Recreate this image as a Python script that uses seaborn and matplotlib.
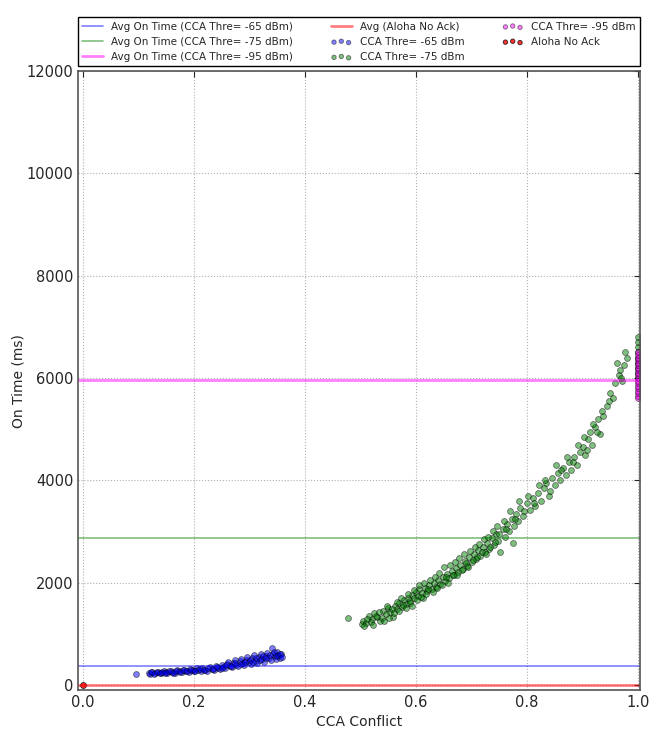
"""CCA conflict vs on time"""

import matplotlib
matplotlib.use('Agg')
import matplotlib.pyplot as plt
import numpy as np
import pandas as pd
import seaborn as sns

# average on time per setting (ms)
avg_labels = ['Avg On Time (CCA Thre= -65 dBm)', 'Avg On Time (CCA Thre= -75 dBm)',
              'Avg On Time (CCA Thre= -95 dBm)', 'Avg (Aloha No Ack)']
avg_values = [360, 2880, 5960, 0]
avg_colors = ['#0000ff', '#008000', '#ff00ff', '#ff0000']

# CCA Thre = -65 dBm
x65 = [0.095, 0.118, 0.120, 0.125, 0.130, 0.135, 0.140, 0.145, 0.150, 0.152,
       0.158, 0.160, 0.165, 0.170, 0.172, 0.178, 0.180, 0.185, 0.190, 0.192,
       0.198, 0.200, 0.205, 0.208, 0.212, 0.215, 0.220, 0.224, 0.228, 0.232,
       0.236, 0.240, 0.243, 0.246, 0.250, 0.253, 0.256, 0.260, 0.262, 0.265,
       0.268, 0.270, 0.273, 0.276, 0.280, 0.282, 0.285, 0.288, 0.290, 0.293,
       0.296, 0.299, 0.302, 0.305, 0.308, 0.311, 0.314, 0.317, 0.320, 0.323,
       0.326, 0.329, 0.332, 0.335, 0.338, 0.340, 0.342, 0.345, 0.348, 0.350,
       0.352, 0.355, 0.357,
       0.122, 0.128, 0.133, 0.138, 0.143, 0.148, 0.155, 0.162, 0.168, 0.175,
       0.182, 0.188, 0.195, 0.202, 0.210, 0.218, 0.226, 0.234, 0.242, 0.250,
       0.258, 0.266, 0.274, 0.284, 0.292, 0.300, 0.306, 0.312, 0.318, 0.324,
       0.330, 0.336, 0.344, 0.350, 0.354, 0.358]
y65 = [220, 240, 210, 250, 230, 260, 240, 270, 250, 225,
       280, 255, 240, 290, 265, 250, 300, 275, 255, 310,
       285, 265, 320, 290, 270, 335, 300, 280, 350, 315,
       290, 370, 330, 305, 390, 350, 320, 410, 450, 370,
       340, 430, 480, 390, 360, 460, 510, 420, 380, 490,
       540, 440, 400, 520, 580, 470, 430, 550, 600, 500,
       450, 570, 620, 520, 480, 720, 600, 560, 500, 640,
       580, 530, 610,
       260, 215, 245, 225, 255, 235, 265, 235, 275, 245,
       285, 265, 300, 280, 310, 290, 330, 305, 350, 330,
       380, 360, 420, 400, 450, 480, 440, 520, 490, 560,
       530, 590, 640, 560, 600, 550]

# CCA Thre = -75 dBm
x75 = [0.478, 0.503, 0.505, 0.510, 0.515, 0.520, 0.525, 0.530, 0.535, 0.540,
       0.545, 0.550, 0.553, 0.558, 0.562, 0.566, 0.570, 0.574, 0.578, 0.582,
       0.586, 0.590, 0.593, 0.596, 0.600, 0.603, 0.606, 0.610, 0.613, 0.616,
       0.620, 0.624, 0.628, 0.632, 0.636, 0.640, 0.644, 0.648, 0.652, 0.656,
       0.660, 0.664, 0.668, 0.672, 0.676, 0.680, 0.684, 0.688, 0.692, 0.696,
       0.700, 0.704, 0.708, 0.712, 0.716, 0.720, 0.724, 0.728, 0.732, 0.736,
       0.740, 0.744, 0.748, 0.752, 0.756, 0.760, 0.764, 0.768, 0.772, 0.775,
       0.776, 0.780, 0.784, 0.788, 0.792, 0.800, 0.805, 0.810, 0.815, 0.820,
       0.825, 0.830, 0.835, 0.840, 0.845, 0.850, 0.855, 0.860, 0.865, 0.870,
       0.875, 0.880, 0.885, 0.890, 0.895, 0.900, 0.905, 0.910, 0.913, 0.917,
       0.922, 0.928, 0.932, 0.937, 0.944, 0.950, 0.955, 0.962, 0.965, 0.968,
       0.972, 0.977, 0.980, 1.000, 1.000, 1.000, 1.000, 1.000, 1.000, 1.000,
       1.000, 1.000,
       0.507, 0.512, 0.518, 0.523, 0.528, 0.533, 0.538, 0.543, 0.548, 0.552,
       0.557, 0.561, 0.565, 0.569, 0.573, 0.577, 0.581, 0.585, 0.589, 0.592,
       0.597, 0.601, 0.605, 0.609, 0.614, 0.618, 0.622, 0.626, 0.630, 0.634,
       0.638, 0.642, 0.646, 0.650, 0.654, 0.658, 0.662, 0.666, 0.670, 0.674,
       0.678, 0.682, 0.686, 0.690, 0.694, 0.698, 0.702, 0.706, 0.710, 0.714,
       0.718, 0.722, 0.726, 0.730, 0.734, 0.738, 0.742, 0.746, 0.750, 0.758,
       0.762, 0.770, 0.778, 0.786, 0.794, 0.802, 0.812, 0.822, 0.832, 0.842,
       0.852, 0.862, 0.872, 0.882, 0.892, 0.902, 0.908, 0.918, 0.926, 0.935,
       0.948, 0.958, 0.970, 0.975]
y75 = [1310, 1190, 1250, 1200, 1350, 1290, 1400, 1330, 1250, 1450,
       1380, 1500, 1420, 1330, 1550, 1480, 1600, 1520, 1650, 1580,
       1700, 1640, 1760, 1690, 1820, 1740, 1880, 1790, 1700, 1900,
       1840, 1960, 1880, 2000, 1920, 2060, 1980, 2100, 2030, 2160,
       2080, 2220, 2140, 2280, 2200, 2350, 2260, 2420, 2320, 2500,
       2400, 2560, 2460, 2640, 2520, 2700, 2600, 2780, 2660, 2880,
       2740, 2950, 2820, 2600, 3050, 2900, 3150, 3000, 3250, 2780,
       3100, 3350, 3200, 3450, 3300, 3550, 3420, 3650, 3500, 3750,
       3600, 3850, 3950, 3700, 4050, 3900, 4150, 4000, 4250, 4100,
       4350, 4200, 4450, 4300, 4550, 4650, 4500, 4800, 4950, 4700,
       5050, 5200, 4900, 5250, 5450, 5700, 5600, 6300, 6050, 6150,
       5950, 6500, 6400, 6000, 6100, 6200, 6300, 6400, 6500, 6600,
       6700, 6800,
       1150, 1280, 1220, 1180, 1350, 1420, 1300, 1250, 1550, 1300,
       1480, 1400, 1620, 1450, 1700, 1560, 1500, 1780, 1600, 1550,
       1850, 1650, 1950, 1720, 2000, 1780, 1870, 2050, 1820, 2100,
       1900, 2180, 1950, 2300, 2100, 2000, 2350, 2150, 2400, 2150,
       2480, 2250, 2550, 2380, 2300, 2620, 2450, 2700, 2500, 2750,
       2600, 2850, 2550, 2900, 2700, 3000, 2800, 3100, 2950, 3200,
       3050, 3400, 3250, 3600, 3400, 3700, 3550, 3900, 4000, 3800,
       4300, 4200, 4450, 4350, 4700, 4850, 4600, 5100, 4950, 5350,
       5550, 5900, 6000, 6250]

# CCA Thre = -95 dBm
x95 = [1.0] * 19
y95 = [5600, 5650, 5700, 5750, 5800, 5850, 5900, 5950, 6000, 6050,
       6100, 6150, 6200, 6250, 6300, 6350, 6400, 6450, 6500]

# Aloha No Ack
x_aloha = [0.0]
y_aloha = [0]

sns.set_style('whitegrid', {'grid.linestyle': ':', 'grid.color': '#b0b0b0',
                            'axes.edgecolor': '#555555'})
plt.rcParams['font.family'] = ['DejaVu Sans']

fig = plt.figure(figsize=(6.56, 7.34), dpi=100)
ax = fig.add_axes([0.119, 0.060, 0.857, 0.843])

widths = [1.2, 1.2, 2.0, 2.0]
for label, val, col, lw in zip(avg_labels, avg_values, avg_colors, widths):
    ax.axhline(val, color=col, alpha=0.5, lw=lw, label=label)

scatter_sets = [(x65, y65, 'blue', 'CCA Thre= -65 dBm', 0.5),
                (x75, y75, 'green', 'CCA Thre= -75 dBm', 0.5),
                (x95, y95, 'magenta', 'CCA Thre= -95 dBm', 0.5),
                (x_aloha, y_aloha, 'red', 'Aloha No Ack', 0.8)]
for xs, ys, col, label, a in scatter_sets:
    df = pd.DataFrame({'x': xs, 'y': ys})
    sns.scatterplot(data=df, x='x', y='y', ax=ax, color=col, alpha=a,
                    edgecolor='black', linewidth=0.6, s=18, label=label)

ax.set_xlim(-0.009, 1.004)
ax.set_ylim(-100, 12000)
ax.set_xticks(np.arange(0, 1.01, 0.2))
ax.set_yticks(np.arange(0, 12001, 2000))
ax.tick_params(direction='in', top=True, right=True, length=4, labelsize=10.5)
ax.set_xlabel('CCA Conflict', fontsize=10)
ax.set_ylabel('On Time (ms)', fontsize=10, labelpad=1)
for sp in ax.spines.values():
    sp.set_linewidth(1.2)

ax.legend(loc='lower left', bbox_to_anchor=(0, 1.008, 1, 0.1), mode='expand',
          ncol=3, fontsize=7.5, scatterpoints=3, markerscale=0.75,
          borderaxespad=0, frameon=True, fancybox=False, edgecolor='black',
          framealpha=1)

fig.savefig('out.png', dpi=100)
